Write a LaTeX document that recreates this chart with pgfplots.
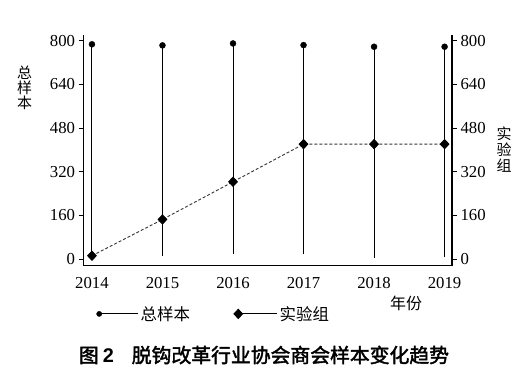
\documentclass[border=0pt]{standalone}
\usepackage{fontspec}
\setmainfont{Liberation Serif}
\newfontfamily\cjk{Noto Sans CJK SC}
\newfontfamily\cjkb[FakeBold=2]{Noto Sans CJK SC}
\newfontfamily\capsans{Liberation Sans}
\usepackage{pgfplots}
\pgfplotsset{compat=1.18}
\begin{document}
\begin{tikzpicture}
\useasboundingbox (-83.5bp,-116.5bp) rectangle (444.5bp,265.5bp);
\begin{axis}[
  at={(0,0)}, anchor=south west, scale only axis,
  width=368.5bp, height=230.5bp,
  xmin=2013.88, xmax=2019.105, ymin=-23.8, ymax=821,
  axis x line*=bottom, axis y line*=left,
  axis line style={-, line width=1.1bp, black},
  xtick={2014,2015,2016,2017,2018,2019},
  xticklabels={2014,2015,2016,2017,2018,2019},
  x tick style={draw=none},
  xticklabel style={yshift=-3bp},
  ytick={0,160,320,480,640,800},
  tick align=outside, major tick length=5bp,
  y tick style={line width=0.9bp, black},
  tick label style={font=\fontsize{16.8}{16.8}\selectfont},
  /pgf/number format/assume math mode=true,
  legend style={at={(axis description cs:0.035,-0.21)}, anchor=west,
    draw=none, fill=none, inner sep=0pt,
    font=\cjk\fontsize{16.5}{16.5}\selectfont,
    /tikz/every even column/.append style={column sep=42bp}},
  legend columns=2,
  legend cell align=left,
]
\addplot[black, line width=1bp, unbounded coords=jump, forget plot] coordinates {
  (2014,12) (2014,787) (2014,nan)
  (2015,10) (2015,783) (2015,nan)
  (2016,18) (2016,790) (2016,nan)
  (2017,18) (2017,784) (2017,nan)
  (2018,5) (2018,778) (2018,nan)
  (2019,7) (2019,778)
};
\addplot[only marks, mark=*, mark size=3bp, black,
  legend image code/.code={
    \draw[black, solid, line width=0.9bp] (0bp,0bp) -- (39bp,0bp);
    \draw[black, solid] plot[mark=*, mark size=2.6bp] coordinates {(0bp,0bp)};
  }] coordinates {
  (2014,787) (2015,783) (2016,790) (2017,784) (2018,778) (2019,778)
};
\addlegendentry{总样本}
\addplot[black!80, line width=0.9bp, dash pattern=on 3bp off 2bp,
  mark=diamond*, mark size=4.6bp,
  mark options={solid, xscale=1.25, fill=black, draw=black},
  legend image code/.code={
    \draw[black, solid, line width=0.9bp] (0bp,0bp) -- (39bp,0bp);
    \draw[black, solid] plot[mark=diamond*, mark size=4.6bp, mark options={solid, xscale=1.25, fill=black}] coordinates {(0bp,0bp)};
  }] coordinates {
  (2014,12) (2015,145) (2016,283) (2017,421) (2018,421) (2019,421)
};
\addlegendentry{实验组}
\end{axis}
\begin{axis}[
  at={(0,0)}, anchor=south west, scale only axis,
  width=368.5bp, height=230.5bp,
  xmin=2013.88, xmax=2019.105, ymin=-23.8, ymax=821,
  axis x line=none, axis y line*=right,
  axis line style={-, line width=1.1bp, black},
  ytick={0,160,320,480,640,800},
  tick align=outside, major tick length=5bp,
  y tick style={line width=0.9bp, black},
  tick label style={font=\fontsize{16.8}{16.8}\selectfont},
  /pgf/number format/assume math mode=true,
]
\addplot[draw=none] coordinates {(2014,0)};
\end{axis}
\node[font=\cjk\fontsize{15}{15}\selectfont, align=center] at (-59bp,178bp) {总\\样\\本};
\node[font=\cjk\fontsize{15}{16}\selectfont, align=center] at (420.5bp,115.5bp) {实\\验\\组};
\node[font=\cjk\fontsize{16}{16}\selectfont] at (322.5bp,-37.5bp) {年份};
\node[font=\fontsize{19.9}{20}\selectfont] at (180.5bp,-89.5bp) {\cjkb 图\hspace{4bp}{\capsans\bfseries 2}\hspace{18bp}脱钩改革行业协会商会样本变化趋势};
\end{tikzpicture}
\end{document}
